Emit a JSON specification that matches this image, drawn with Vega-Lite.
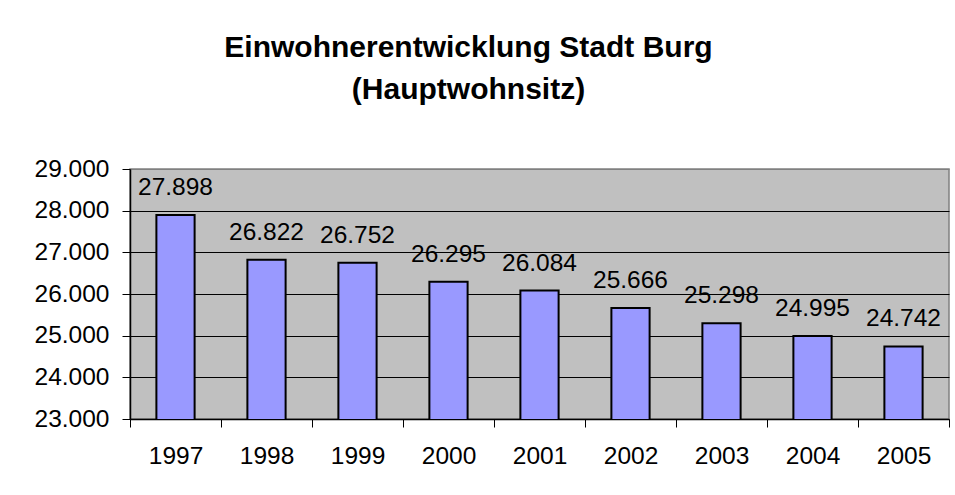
{
  "$schema": "https://vega.github.io/schema/vega-lite/v6.json",
  "autosize": "none",
  "width": 819,
  "height": 250,
  "padding": {"left": 130, "top": 169, "right": 6, "bottom": 76},
  "background": "white",
  "title": {
    "text": ["Einwohnerentwicklung Stadt Burg", "(Hauptwohnsitz)"],
    "font": "Liberation Sans",
    "fontSize": 30,
    "fontWeight": "bold",
    "color": "black",
    "anchor": "middle",
    "frame": "group",
    "dx": -71,
    "baseline": "bottom",
    "lineHeight": 42,
    "offset": 21
  },
  "data": {
    "values": [
      {"Jahr": "1997", "Einwohner": 27898},
      {"Jahr": "1998", "Einwohner": 26822},
      {"Jahr": "1999", "Einwohner": 26752},
      {"Jahr": "2000", "Einwohner": 26295},
      {"Jahr": "2001", "Einwohner": 26084},
      {"Jahr": "2002", "Einwohner": 25666},
      {"Jahr": "2003", "Einwohner": 25298},
      {"Jahr": "2004", "Einwohner": 24995},
      {"Jahr": "2005", "Einwohner": 24742}
    ]
  },
  "encoding": {
    "x": {
      "field": "Jahr",
      "type": "ordinal",
      "scale": {"paddingInner": 0, "paddingOuter": 0},
      "axis": {
        "title": null,
        "labelAngle": 0,
        "labelFont": "Liberation Sans",
        "labelFontSize": 24.5,
        "labelColor": "black",
        "labelPadding": 17,
        "tickBand": "extent",
        "tickSize": 8,
        "tickColor": "black",
        "domainColor": "black",
        "domainWidth": 1.5,
        "grid": false
      }
    },
    "y": {
      "field": "Einwohner",
      "type": "quantitative",
      "scale": {"domain": [23000, 29000], "nice": false, "zero": false},
      "axis": {
        "title": null,
        "values": [23000, 24000, 25000, 26000, 27000, 28000, 29000],
        "format": ",d",
        "labelFont": "Liberation Sans",
        "labelFontSize": 24.5,
        "labelColor": "black",
        "labelPadding": 13,
        "tickSize": 8,
        "tickColor": "black",
        "domainColor": "black",
        "domainWidth": 1.5,
        "grid": true,
        "gridColor": {"condition": {"test": "datum.value == 29000", "value": "#808080"}, "value": "black"},
        "gridWidth": 1,
        "gridOpacity": 1
      }
    }
  },
  "layer": [
    {
      "mark": {"type": "bar", "clip": true, "width": {"band": 0.42}, "fill": "#9999FF", "stroke": "black", "strokeWidth": 2}
    },
    {
      "mark": {"type": "text", "baseline": "alphabetic", "dy": -20, "font": "Liberation Sans", "fontSize": 24.5, "color": "black"},
      "encoding": {
        "text": {"field": "Einwohner", "type": "quantitative", "format": ",d"}
      }
    }
  ],
  "config": {
    "locale": {
      "number": {"decimal": ",", "thousands": ".", "grouping": [3], "currency": ["", " €"]}
    },
    "view": {"fill": "#C0C0C0", "stroke": "#808080", "strokeWidth": 1.5}
  }
}
